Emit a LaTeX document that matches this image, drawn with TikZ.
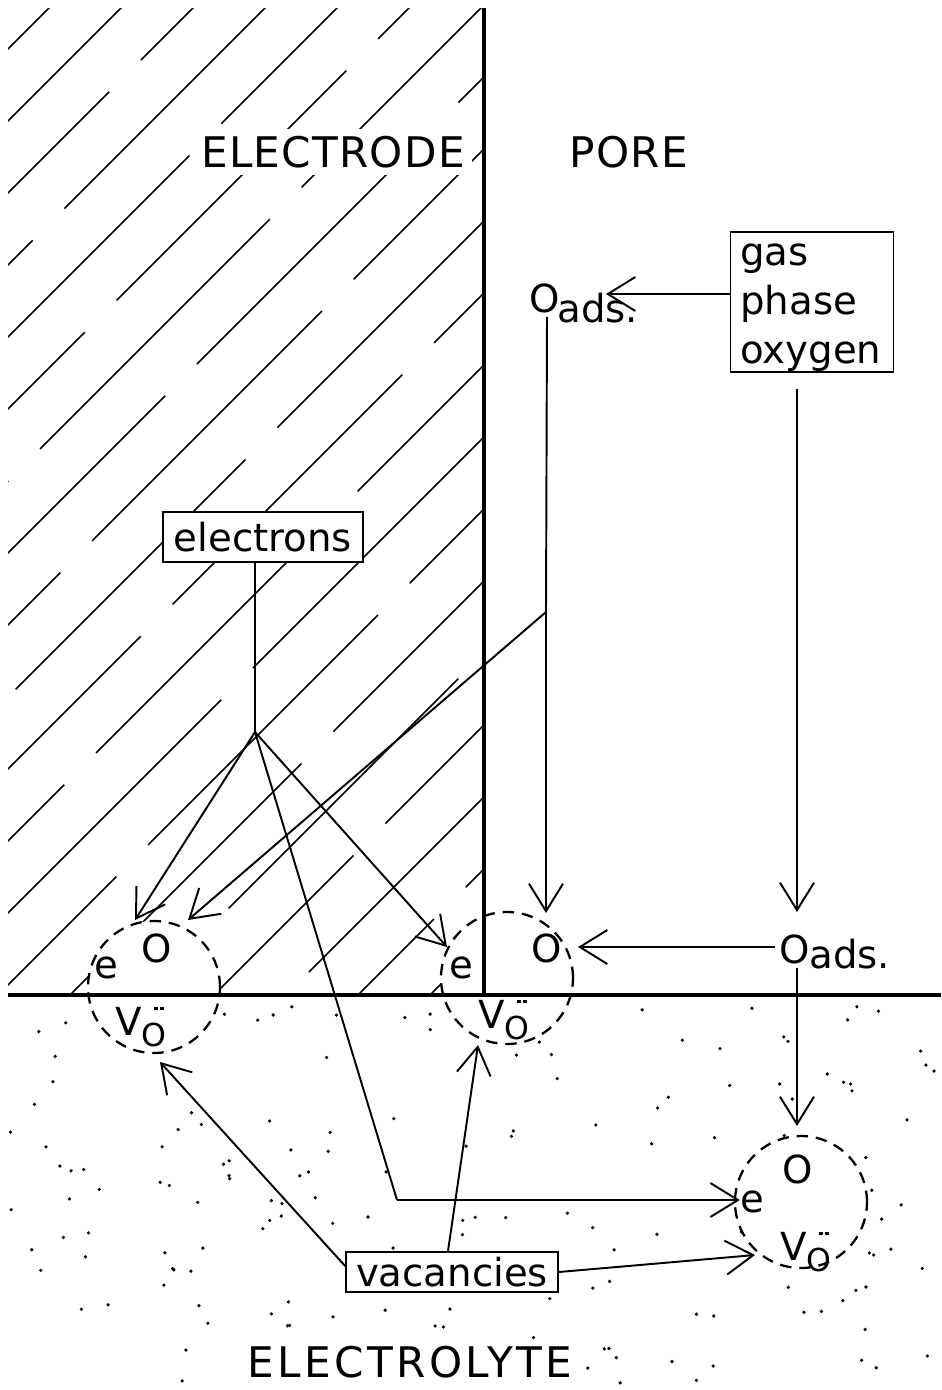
\documentclass[tikz,border=0pt]{standalone}
\usepackage{fontspec}
\setmainfont{DejaVu Sans}
\usetikzlibrary{arrows.meta,calc}
\newcommand\lab{\fontsize{22}{28}\selectfont}
\newcommand\bigcaps{\fontsize{24}{28}\selectfont\addfontfeature{LetterSpace=3}}
\newcommand\widecaps{\fontsize{24}{28}\selectfont\addfontfeature{LetterSpace=8}}
\newcommand\vodots{V\raisebox{-6.5pt}{\fontsize{18}{18}\selectfont O}\llap{\raisebox{14pt}{\rule{2.2pt}{2.2pt}\hspace{1.2pt}\rule{2.2pt}{2.2pt}}\hspace{1.5pt}}}
\tikzset{
  arr/.style={-{Straight Barb[length=0.55cm,width=0.68cm]}, line width=1.1pt},
  ln/.style={line width=1.1pt},
  hatch/.style={line width=0.85pt},
  heavy/.style={line width=2.2pt},
  labelbox/.style={draw, line width=1.0pt, fill=white, font=\lab, inner sep=0pt},
  dcirc/.style={circle, draw, dashed, dash pattern=on 6.5pt off 4.5pt, line width=1.3pt, fill=white, minimum size=2.64cm, inner sep=0pt},
  txt/.style={font=\lab, inner sep=0pt},
}
\begin{document}
\begin{tikzpicture}[x=0.02cm,y=-0.02cm]
\useasboundingbox (0,0) rectangle (941,1390);
% hatching of the electrode
\begin{scope}
\clip (8,8) rectangle (484,995);
\foreach \k in {0,...,21}{
  \pgfmathsetmacro\hc{57+72*\k}
  \pgfmathsetmacro\ph{mod(\k*37,11)*0.6}
  \draw[hatch, dash pattern=on 6.5cm off 0.9cm, dash phase=\ph cm] (\hc,0) -- (\hc-1100,1100);
}
\end{scope}
% dots of the electrolyte
\pgfmathsetseed{4242}
\foreach \i in {1,...,170}{
  \pgfmathsetmacro\xx{10+rnd*925}
  \pgfmathsetmacro\yy{1005+rnd*380}
  \fill (\xx,\yy) circle[radius=1.8];
}
% region labels
\node[font=\bigcaps, fill=white, inner sep=4pt] (electrode) at (333,152) {ELECTRODE};
\node[font=\bigcaps, inner sep=0pt] (pore) at (629,152) {PORE};
\node[font=\widecaps, fill=white, inner sep=3pt] (electrolyte) at (410,1362) {ELECTROLYTE};
% reaction sites
\node[dcirc] (c1) at (154,987) {};
\node[dcirc] (c2) at (507,978) {};
\node[dcirc] (c3) at (801,1202) {};
% wall and surface
\draw[heavy] (484,8) -- (484,996);
\draw[heavy] (8,995) -- (941,995);
% circle contents
\node[txt, anchor=base] (e1) at (106,978) {e};
\node[txt, anchor=base] (o1) at (157,962) {O};
\node[txt, anchor=base west] (v1) at (115,1035) {\vodots};
\node[txt, anchor=base] (e2) at (461,978) {e};
\node[txt, anchor=base] (o2) at (547,962) {O};
\node[txt, anchor=base west] (v2) at (478,1028) {\vodots};
\node[txt, anchor=base] (o3) at (798,1183) {O};
\node[txt, anchor=base] (e3) at (752,1212) {e};
\node[txt, anchor=base west] (v3) at (780,1260) {\vodots};
% adsorbed oxygen
\node[txt, anchor=base] (oa1) at (545,312) {O};
\node[txt, anchor=base west] (oa1s) at (557,322) {ads.};
\node[txt, anchor=base] (oa2) at (795,963) {O};
\node[txt, anchor=base west] (oa2s) at (809,968) {ads.};
% boxes
\node[labelbox, minimum width=3.26cm, minimum height=2.8cm] (gas) at (812,302) {};
\node[txt, anchor=base west] (gas1) at (740,265) {gas};
\node[txt, anchor=base west] (gas2) at (740,314) {phase};
\node[txt, anchor=base west] (gas3) at (740,363) {oxygen};
\node[labelbox, minimum width=4.0cm, minimum height=1.0cm] (electrons) at (263,537) {electrons};
\node[labelbox, minimum width=4.24cm, minimum height=0.8cm] (vac) at (452,1272) {vacancies};
% named points
\coordinate (t1) at (606,294);
\coordinate (t2) at (546,913);
\coordinate (br) at (546,612);
\coordinate (t3) at (797,912);
\coordinate (t4) at (578,947);
\coordinate (J) at (255,732);
\coordinate (K) at (397,1200);
% oxygen path
\draw[arr] (gas.west |- t1) -- (t1);
\draw[ln] ($(oa1.south)+(2,4)$) -- (br);
\draw[arr] (br) -- (t2);
\draw[arr] (br) -- (188,920);
\draw[arr] ($(gas.south)+(-15,16)$) -- (t3);
\draw[arr] (oa2.west |- t4) ++(-4,0) -- (t4);
\draw[arr] ($(oa2.south)+(2,4)$) -- (797,1126);
% electrons
\draw[ln] (electrons.south -| J) -- (J);
\draw[arr] (J) -- (135,920);
\draw[arr] (J) -- (447,947);
\draw[ln] (J) -- (K);
\draw[arr] (K) -- (e3.west |- K);
% vacancies
\draw[arr] (vac.west) ++(0,-6) -- (160,1062);
\draw[arr] (vac.north -| 448,0) -- (478,1045);
\draw[arr] (vac.east) -- (755,1255);
\end{tikzpicture}
\end{document}
